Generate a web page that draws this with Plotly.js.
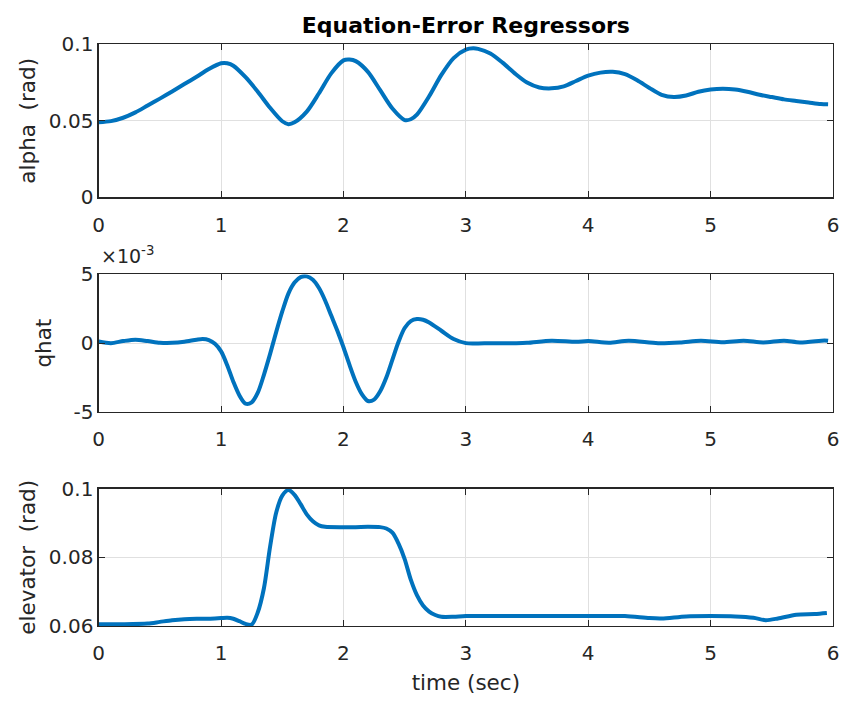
<!DOCTYPE html>
<html>
<head>
<meta charset="utf-8">
<script src="https://cdn.plot.ly/plotly-3.0.1.min.js"></script>
<style>
  html, body { margin: 0; padding: 0; background: #ffffff; }
  #chart { width: 843px; height: 703px; }
</style>
</head>
<body>
<div id="chart"></div>
<script>
// Angle of attack (rad) over time (sec)
const alphaTime = [0, 0.1, 0.2, 0.3, 0.4, 0.5, 0.6, 0.7, 0.8, 0.9, 1.0, 1.05, 1.1, 1.2, 1.3, 1.4, 1.5, 1.55, 1.6, 1.7, 1.8, 1.9, 2.0, 2.05, 2.1, 2.2, 2.3, 2.4, 2.5, 2.55, 2.6, 2.7, 2.8, 2.9, 3.0, 3.06, 3.1, 3.2, 3.3, 3.4, 3.5, 3.6, 3.7, 3.8, 3.9, 4.0, 4.1, 4.2, 4.3, 4.4, 4.5, 4.6, 4.7, 4.8, 4.9, 5.0, 5.1, 5.2, 5.3, 5.4, 5.5, 5.6, 5.7, 5.8, 5.9, 5.96];
const alphaRad = [0.0490, 0.0498, 0.0520, 0.0555, 0.0600, 0.0645, 0.0692, 0.0740, 0.0788, 0.0838, 0.0876, 0.0876, 0.0860, 0.0785, 0.0690, 0.0585, 0.0497, 0.0478, 0.0490, 0.0560, 0.0680, 0.0810, 0.0895, 0.0900, 0.0890, 0.0820, 0.0700, 0.0580, 0.0505, 0.0510, 0.0540, 0.0660, 0.0800, 0.0910, 0.0965, 0.0974, 0.0970, 0.0940, 0.0880, 0.0810, 0.0750, 0.0718, 0.0712, 0.0725, 0.0760, 0.0795, 0.0815, 0.0820, 0.0805, 0.0765, 0.0715, 0.0670, 0.0655, 0.0665, 0.0690, 0.0705, 0.0710, 0.0705, 0.0690, 0.0670, 0.0655, 0.0640, 0.0630, 0.0620, 0.0610, 0.0608];

// Pitch-rate regressor (qhat) over time (sec)
const qhatTime = [0, 0.1, 0.2, 0.3, 0.4, 0.5, 0.6, 0.7, 0.8, 0.85, 0.9, 0.95, 1.0, 1.05, 1.1, 1.15, 1.2, 1.25, 1.3, 1.35, 1.4, 1.45, 1.5, 1.55, 1.6, 1.65, 1.7, 1.75, 1.8, 1.85, 1.9, 1.95, 2.0, 2.05, 2.1, 2.15, 2.2, 2.25, 2.3, 2.35, 2.4, 2.45, 2.5, 2.55, 2.6, 2.65, 2.7, 2.8, 2.9, 3.0, 3.1, 3.2, 3.4, 3.5, 3.7, 3.9, 4.0, 4.17, 4.33, 4.57, 4.75, 4.92, 5.1, 5.27, 5.43, 5.6, 5.73, 5.93, 5.96];
const qhatVal = [0.00012, 0.00000, 0.00015, 0.00025, 0.00015, 0.00003, 0.00002, 0.00010, 0.00025, 0.00030, 0.00022, -0.00005, -0.00060, -0.00160, -0.00280, -0.00380, -0.00440, -0.00430, -0.00360, -0.00230, -0.00080, 0.00080, 0.00230, 0.00360, 0.00440, 0.00480, 0.00485, 0.00460, 0.00400, 0.00310, 0.00200, 0.00090, -0.00030, -0.00160, -0.00280, -0.00370, -0.00420, -0.00410, -0.00350, -0.00250, -0.00120, 0.00010, 0.00110, 0.00160, 0.00175, 0.00170, 0.00150, 0.00090, 0.00030, 0.00000, -0.00002, 0.00000, 0.00000, 0.00002, 0.00018, 0.00010, 0.00015, 0.00003, 0.00018, 0.00000, 0.00005, 0.00018, 0.00007, 0.00018, 0.00005, 0.00018, 0.00005, 0.00020, 0.00018];

// Elevator deflection (rad) over time (sec)
const elevTime = [0, 0.2, 0.4, 0.5, 0.6, 0.7, 0.8, 0.9, 1.0, 1.05, 1.1, 1.15, 1.2, 1.25, 1.3, 1.35, 1.4, 1.45, 1.5, 1.55, 1.6, 1.65, 1.7, 1.75, 1.8, 1.85, 2.0, 2.1, 2.2, 2.3, 2.35, 2.4, 2.45, 2.5, 2.55, 2.6, 2.65, 2.7, 2.75, 2.8, 2.9, 3.0, 3.5, 4.0, 4.3, 4.5, 4.6, 4.8, 5.0, 5.2, 5.35, 5.45, 5.55, 5.7, 5.85, 5.95];
const elevRad = [0.0605, 0.0605, 0.0607, 0.0612, 0.0617, 0.0620, 0.0621, 0.0621, 0.0623, 0.0624, 0.0621, 0.0614, 0.0606, 0.0604, 0.0640, 0.0710, 0.0830, 0.0930, 0.0980, 0.0996, 0.0982, 0.0955, 0.0925, 0.0905, 0.0893, 0.0889, 0.0888, 0.0888, 0.0889, 0.0888, 0.0884, 0.0872, 0.0840, 0.0795, 0.0735, 0.0690, 0.0660, 0.0642, 0.0632, 0.0627, 0.0627, 0.0629, 0.0629, 0.0629, 0.0629, 0.0623, 0.0622, 0.0628, 0.0629, 0.0628, 0.0624, 0.0617, 0.0622, 0.0633, 0.0635, 0.0638];

const xTicks = [0, 1, 2, 3, 4, 5, 6];
const alphaTicks = [0, 0.05, 0.1];
const alphaTickText = ['0', '0.05', '0.1'];
const qhatTicks = [-0.005, 0, 0.005];
const qhatTickText = ['-5', '0', '5'];
const elevTicks = [0.06, 0.08, 0.1];
const elevTickText = ['0.06', '0.08', '0.1'];

const W = 843, H = 703;
const FONT = 'DejaVu Sans, Liberation Sans, Arial, sans-serif';
const INK = '#262626';
const BLUE = '#0072BD';

// Plot boxes in pixels: [left, right] and [top, bottom]
const xBox = [98.7, 833];
const boxes = { top: [44.3, 197.3], mid: [274.3, 412], bot: [488.7, 626] };
const xd = [xBox[0] / W, xBox[1] / W];
const yd = b => [1 - b[1] / H, 1 - b[0] / H];

function lineTrace(x, y, xa, ya) {
  return {
    x: x, y: y, xaxis: xa, yaxis: ya,
    type: 'scatter', mode: 'lines',
    line: { color: BLUE, width: 4, shape: 'spline', smoothing: 0.8 },
    hoverinfo: 'x+y', showlegend: false
  };
}

function xAxis(anchor, extra) {
  return Object.assign({
    domain: xd, anchor: anchor, range: [0, 6],
    tickmode: 'array', tickvals: xTicks,
    ticks: 'inside', ticklen: 6, tickwidth: 1, tickcolor: INK,
    ticklabelstandoff: 9,
    showline: true, linecolor: INK, linewidth: 1.3, mirror: 'ticks',
    showgrid: true, gridcolor: '#e0e0e0', gridwidth: 1, zeroline: false,
    tickfont: { family: FONT, size: 20, color: INK }
  }, extra || {});
}

function yAxis(anchor, box, range, vals, text, title, standoff) {
  return {
    domain: yd(box), anchor: anchor, range: range,
    tickmode: 'array', tickvals: vals, ticktext: text,
    ticks: 'inside', ticklen: 6, tickwidth: 1, tickcolor: INK,
    showline: true, linecolor: INK, linewidth: 1.3, mirror: 'ticks',
    showgrid: true, gridcolor: '#e0e0e0', gridwidth: 1, zeroline: false,
    tickfont: { family: FONT, size: 20, color: INK },
    title: { text: title, font: { family: FONT, size: 21.5, color: INK }, standoff: standoff }
  };
}

const data = [
  lineTrace(alphaTime, alphaRad, 'x', 'y'),
  lineTrace(qhatTime, qhatVal, 'x2', 'y2'),
  lineTrace(elevTime, elevRad, 'x3', 'y3')
];

const layout = {
  width: W, height: H,
  margin: { l: 0, r: 0, t: 0, b: 0 },
  paper_bgcolor: '#ffffff', plot_bgcolor: '#ffffff',
  showlegend: false,
  title: {
    text: 'Equation-Error Regressors',
    x: (xBox[0] + xBox[1]) / 2 / W, xanchor: 'center',
    y: 1 - 25 / H, yanchor: 'middle',
    font: { family: FONT, size: 22, color: '#000000', weight: 700 }
  },
  xaxis: xAxis('y'),
  xaxis2: xAxis('y2'),
  xaxis3: xAxis('y3', {
    title: { text: 'time (sec)', font: { family: FONT, size: 21.5, color: INK }, standoff: 10 }
  }),
  yaxis: yAxis('x', boxes.top, [0, 0.1], alphaTicks, alphaTickText, 'alpha\u00a0 (rad)', 7),
  yaxis2: yAxis('x2', boxes.mid, [-0.005, 0.005], qhatTicks, qhatTickText, 'qhat', 16),
  yaxis3: yAxis('x3', boxes.bot, [0.06, 0.1], elevTicks, elevTickText, 'elevator\u00a0 (rad)', 7),
  annotations: [{
    xref: 'paper', yref: 'paper',
    x: 99 / W, y: 1 - 269 / H, xanchor: 'left', yanchor: 'bottom',
    text: '\u00d710<sup>-3</sup>', showarrow: false,
    font: { family: FONT, size: 19, color: INK }
  }]
};

Plotly.newPlot('chart', data, layout, { displayModeBar: false, staticPlot: true });
</script>
</body>
</html>
